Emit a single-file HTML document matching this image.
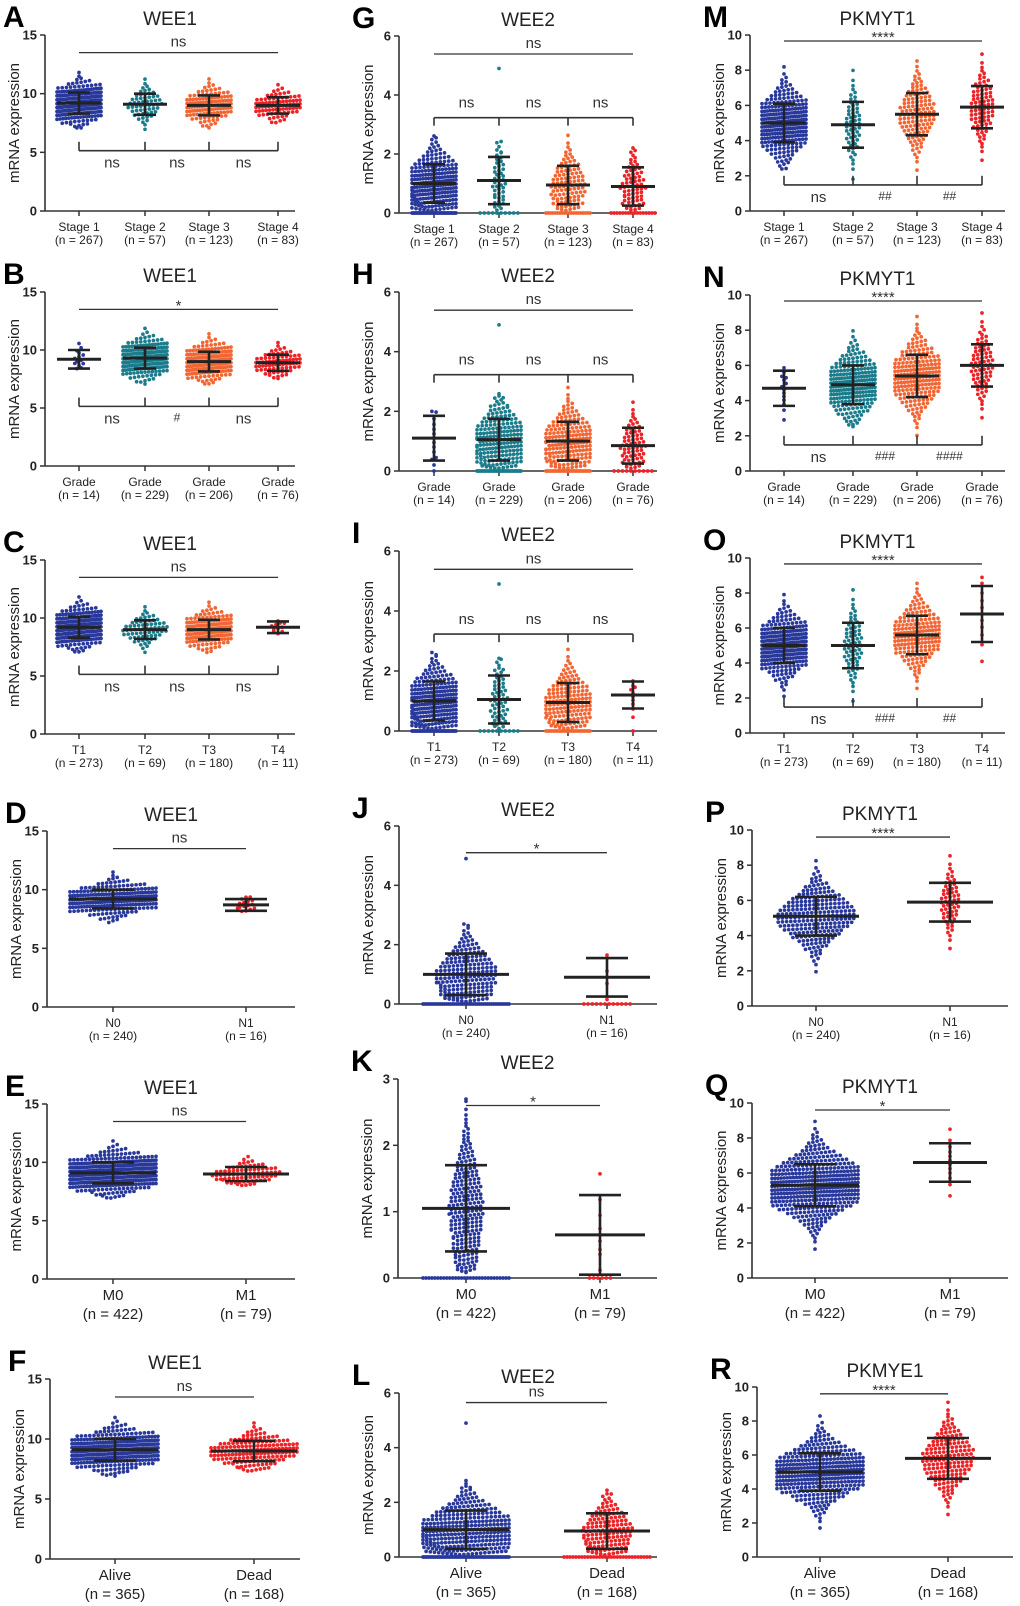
<!DOCTYPE html>
<html><head><meta charset="utf-8"><style>
html,body{margin:0;padding:0;background:#fff}
svg{display:block;font-family:"Liberation Sans",sans-serif}
</style></head><body>
<svg id="fig" width="1020" height="1606" viewBox="0 0 1020 1606" xmlns="http://www.w3.org/2000/svg"></svg>
<script>
// ---- data ----
const catsStage=["Stage 1","Stage 2","Stage 3","Stage 4"], nsStage=[267,57,123,83];
const catsGrade=["Grade","Grade","Grade","Grade"], nsGrade=[14,229,206,76];
const catsT=["T1","T2","T3","T4"], nsT=[273,69,180,11];
const catsN=["N0","N1"], nsN=[240,16];
const catsM=["M0","M1"], nsM=[422,79];
const catsAD=["Alive","Dead"], nsAD=[365,168];

const meansA=[9.2,9.1,9.0,9.0], sdsA=[0.9,0.9,0.85,0.7], minsA=[7,6.7,7,7.4], maxsA=[12.7,11.4,11.8,10.8];
const meansB=[9.2,9.3,9.0,8.9], sdsB=[0.8,0.9,0.85,0.7], minsB=[8.3,7,7,7.5], maxsB=[10.6,12.7,11.8,11.2];
const meansC=[9.2,9.0,9.0,9.2], sdsC=[0.9,0.8,0.85,0.5], minsC=[7,6.7,7,8.6], maxsC=[12.7,11.4,11.8,9.8];
const meansD=[9.2,8.7], sdsD=[0.8,0.5], minsD=[7.2,8.1], maxsD=[12.5,9.5];
const meansE=[9.1,9.0], sdsE=[0.9,0.6], minsE=[6.9,8], maxsE=[12.7,10.7];
const meansF=[9.1,9.0], sdsF=[0.9,0.85], minsF=[6.9,7.3], maxsF=[12.7,11.8];

const meansG=[1.0,1.1,0.95,0.9], sdsG=[0.65,0.8,0.65,0.65], maxsG=[2.7,2.5,2.8,2.3], zerosG=[40,10,20,16], extraG=[[],[4.9],[],[]];
const meansH=[1.1,1.05,1.0,0.85], sdsH=[0.75,0.7,0.65,0.6], maxsH=[2.2,2.6,2.8,2.8], zerosH=[1,35,30,10], extraH=[[],[4.9],[],[]];
const meansI=[1.0,1.05,0.95,1.2], sdsI=[0.65,0.8,0.65,0.45], maxsI=[2.7,2.5,2.8,1.7], zerosI=[40,10,25,1], extraI=[[],[4.9],[],[]];
const meansJ=[1.0,0.9], sdsJ=[0.7,0.65], maxsJ=[2.8,2.3], zerosJ=[45,12], extraJ=[[4.9],[]];
const meansK=[1.05,0.65], sdsK=[0.65,0.6], maxsK=[2.8,1.65], zerosK=[30,6], extraK=[[],[]], dotsK=[260,14];
const meansL=[1.0,0.95], sdsL=[0.7,0.65], maxsL=[2.8,2.5], zerosL=[60,30], extraL=[[4.9],[]];

const meansMm=[5.0,4.9,5.5,5.9], sdsMm=[1.1,1.3,1.2,1.2], minsMm=[2.3,0,1.6,2.2], maxsMm=[9.2,8.7,8.6,9.2];
const meansNn=[4.7,4.9,5.4,6.0], sdsNn=[1.0,1.1,1.2,1.2], minsNn=[2.9,2.5,1.5,2.5], maxsNn=[5.9,8.0,9.2,9.2];
const meansO=[5.0,5.0,5.6,6.8], sdsO=[1.0,1.3,1.1,1.6], minsO=[1.8,0,1.8,3.5], maxsO=[9.2,8.7,8.6,9.2];
const meansP=[5.1,5.9], sdsP=[1.1,1.1], minsP=[0,2.3], maxsP=[9.2,9.0], dotsP=[240,60];
const meansQ=[5.3,6.6], sdsQ=[1.2,1.1], minsQ=[0,4.6], maxsQ=[9.1,8.7], dotsQ=[422,12];
const meansR=[5.0,5.8], sdsR=[1.1,1.2], minsR=[0,1.8], maxsR=[9.2,9.2];

const C4=["#28389b","#1b7c8c","#f26634","#ec2327"], C2=["#28389b","#ec2327"];

// ---- panel layout ----
const panels=[
 {id:"A",title:"WEE1",ax:45,end:295,top:35,zero:211,yMax:15,ticks:[0,5,10,15],cx:[79,145,209,278],cats:catsStage,ns:nsStage,means:meansA,sds:sdsA,mins:minsA,maxs:maxsA,topSig:[13.5,"ns"],bot:{v:5.14,t:5.9,dir:"below",labels:["ns","ns","ns"]}},
 {id:"B",title:"WEE1",ax:45,end:295,top:292,zero:466,yMax:15,ticks:[0,5,10,15],cx:[79,145,209,278],cats:catsGrade,ns:nsGrade,means:meansB,sds:sdsB,mins:minsB,maxs:maxsB,topSig:[13.5,"*"],bot:{v:5.14,t:5.9,dir:"below",labels:["ns","#","ns"]}},
 {id:"C",title:"WEE1",ax:45,end:295,top:560,zero:734,yMax:15,ticks:[0,5,10,15],cx:[79,145,209,278],cats:catsT,ns:nsT,means:meansC,sds:sdsC,mins:minsC,maxs:maxsC,topSig:[13.5,"ns"],bot:{v:5.14,t:5.9,dir:"below",labels:["ns","ns","ns"]}},
 {id:"D",title:"WEE1",ax:47,end:295,top:831,zero:1007,yMax:15,ticks:[0,5,10,15],cx:[113,246],cats:catsN,ns:nsN,means:meansD,sds:sdsD,mins:minsD,maxs:maxsD,topSig:[13.5,"ns"],mh:[44,23]},
 {id:"E",title:"WEE1",ax:47,end:295,top:1104,zero:1279,yMax:15,ticks:[0,5,10,15],cx:[113,246],cats:catsM,ns:nsM,means:meansE,sds:sdsE,mins:minsE,maxs:maxsE,topSig:[13.5,"ns"],big:1},
 {id:"F",title:"WEE1",ax:50,end:300,top:1379,zero:1559,yMax:15,ticks:[0,5,10,15],cx:[115,254],cats:catsAD,ns:nsAD,means:meansF,sds:sdsF,mins:minsF,maxs:maxsF,topSig:[13.5,"ns"],big:1},
 {id:"G",title:"WEE2",ax:399,end:657,top:36,zero:213,yMax:6,ticks:[0,2,4,6],cx:[434,499,568,633],cats:catsStage,ns:nsStage,means:meansG,sds:sdsG,maxs:maxsG,zeros:zerosG,extra:extraG,topSig:[5.39,"ns"],bot:{v:3.23,t:2.96,dir:"above",labels:["ns","ns","ns"]}},
 {id:"H",title:"WEE2",ax:399,end:657,top:292,zero:471,yMax:6,ticks:[0,2,4,6],cx:[434,499,568,633],cats:catsGrade,ns:nsGrade,means:meansH,sds:sdsH,maxs:maxsH,zeros:zerosH,extra:extraH,topSig:[5.39,"ns"],bot:{v:3.23,t:2.96,dir:"above",labels:["ns","ns","ns"]}},
 {id:"I",title:"WEE2",ax:399,end:657,top:551,zero:731,yMax:6,ticks:[0,2,4,6],cx:[434,499,568,633],cats:catsT,ns:nsT,means:meansI,sds:sdsI,maxs:maxsI,zeros:zerosI,extra:extraI,topSig:[5.39,"ns"],bot:{v:3.23,t:2.96,dir:"above",labels:["ns","ns","ns"]}},
 {id:"J",title:"WEE2",ax:399,end:657,top:826,zero:1004,yMax:6,ticks:[0,2,4,6],cx:[466,607],cats:catsN,ns:nsN,means:meansJ,sds:sdsJ,maxs:maxsJ,zeros:zerosJ,extra:extraJ,topSig:[5.1,"*"]},
 {id:"K",title:"WEE2",ax:398,end:657,top:1079,zero:1278,yMax:3,ticks:[0,1,2,3],cx:[466,600],cats:catsM,ns:nsM,means:meansK,sds:sdsK,maxs:maxsK,zeros:zerosK,extra:extraK,dots:dotsK,topSig:[2.6,"*"],big:1,mh:[44,45]},
 {id:"L",title:"WEE2",ax:399,end:657,top:1393,zero:1557,yMax:6,ticks:[0,2,4,6],cx:[466,607],cats:catsAD,ns:nsAD,means:meansL,sds:sdsL,maxs:maxsL,zeros:zerosL,extra:extraL,topSig:[5.65,"ns"],big:1},
 {id:"M",title:"PKMYT1",ax:750,end:1005,top:35,zero:211,yMax:10,ticks:[0,2,4,6,8,10],cx:[784,853,917,982],cats:catsStage,ns:nsStage,means:meansMm,sds:sdsMm,mins:minsMm,maxs:maxsMm,topSig:[9.66,"****"],bot:{v:1.48,t:2.0,dir:"below",labels:["ns","##","##"]}},
 {id:"N",title:"PKMYT1",ax:750,end:1005,top:295,zero:471,yMax:10,ticks:[0,2,4,6,8,10],cx:[784,853,917,982],cats:catsGrade,ns:nsGrade,means:meansNn,sds:sdsNn,mins:minsNn,maxs:maxsNn,topSig:[9.66,"****"],bot:{v:1.48,t:2.0,dir:"below",labels:["ns","###","####"]}},
 {id:"O",title:"PKMYT1",ax:750,end:1005,top:558,zero:733,yMax:10,ticks:[0,2,4,6,8,10],cx:[784,853,917,982],cats:catsT,ns:nsT,means:meansO,sds:sdsO,mins:minsO,maxs:maxsO,topSig:[9.66,"****"],bot:{v:1.48,t:2.0,dir:"below",labels:["ns","###","##"]}},
 {id:"P",title:"PKMYT1",ax:752,end:1008,top:830,zero:1006,yMax:10,ticks:[0,2,4,6,8,10],cx:[816,950],cats:catsN,ns:nsN,means:meansP,sds:sdsP,mins:minsP,maxs:maxsP,dots:dotsP,topSig:[9.6,"****"]},
 {id:"Q",title:"PKMYT1",ax:752,end:1008,top:1103,zero:1278,yMax:10,ticks:[0,2,4,6,8,10],cx:[815,950],cats:catsM,ns:nsM,means:meansQ,sds:sdsQ,mins:minsQ,maxs:maxsQ,dots:dotsQ,topSig:[9.6,"*"],big:1,mh:[44,37]},
 {id:"R",title:"PKMYE1",ax:757,end:1013,top:1387,zero:1557,yMax:10,ticks:[0,2,4,6,8,10],cx:[820,948],cats:catsAD,ns:nsAD,means:meansR,sds:sdsR,mins:minsR,maxs:maxsR,topSig:[9.6,"****"],big:1}
];

const NS="http://www.w3.org/2000/svg", svg=document.getElementById("fig");
function mk(tag,attrs,parent,txt){const e=document.createElementNS(NS,tag);for(const k in attrs)e.setAttribute(k,attrs[k]);if(txt!=null)e.textContent=txt;(parent||svg).appendChild(e);return e;}
function inv(p){const a=[-39.6968302866538,220.946098424521,-275.928510446969,138.357751867269,-30.6647980661472,2.50662827745924],b=[-54.4760987982241,161.585836858041,-155.698979859887,66.8013118877197,-13.2806815528857],c=[-0.00778489400243029,-0.322396458041136,-2.40075827716184,-2.54973253934373,4.37466414146497,2.93816398269878],d=[0.00778469570904146,0.32246712907004,2.445134137143,3.75440866190742];let q,r;
 if(p<0.02425){q=Math.sqrt(-2*Math.log(p));return(((((c[0]*q+c[1])*q+c[2])*q+c[3])*q+c[4])*q+c[5])/((((d[0]*q+d[1])*q+d[2])*q+d[3])*q+1);}
 if(p>1-0.02425){q=Math.sqrt(-2*Math.log(1-p));return-(((((c[0]*q+c[1])*q+c[2])*q+c[3])*q+c[4])*q+c[5])/((((d[0]*q+d[1])*q+d[2])*q+d[3])*q+1);}
 q=p-0.5;r=q*q;return(((((a[0]*r+a[1])*r+a[2])*r+a[3])*r+a[4])*r+a[5])*q/(((((b[0]*r+b[1])*r+b[2])*r+b[3])*r+b[4])*r+1);}
function fold(v,lo,hi){for(let k=0;k<4;k++){if(v<lo)v=lo+(lo-v);if(v>hi)v=hi-(v-hi);}return Math.max(lo,Math.min(hi,v));}

panels.forEach(P=>{
 const g=mk("g",{});
 
 
 const y=v=>P.zero-(v/P.yMax)*(P.zero-P.top);
 const two=P.cx.length===2, half=two?43:22, capH=two?21:11;
 const col1="ABCDEF".includes(P.id);
 const L=mk("text",{x:col1?P.ax-42:P.ax-47,y:P.top-8,"font-size":30,"font-weight":"bold"},g,P.id);
 
 const T=mk("text",{x:(P.ax+P.end)/2,y:P.top-10,"font-size":19,"text-anchor":"middle",fill:"#222"},g,P.title);
 
 const yt=mk("text",{transform:`translate(${P.ax-26},${(P.top+P.zero)/2}) rotate(-90)`,"font-size":15,"text-anchor":"middle",fill:"#222"},g,"mRNA expression");
 
 const ya=mk("line",{x1:P.ax,y1:P.top,x2:P.ax,y2:P.zero,stroke:"#333","stroke-width":1.6},g);
 
 const xa=mk("line",{x1:P.ax,y1:P.zero,x2:P.end,y2:P.zero,stroke:"#333","stroke-width":1.6},g);
 
 P.ticks.forEach(t=>{
  const tl=mk("line",{x1:P.ax-5,x2:P.ax,y1:y(t),y2:y(t),stroke:"#333","stroke-width":1.5},g);
  
  const tx=mk("text",{x:P.ax-8,y:y(t)+4.5,"font-size":13,"font-weight":"bold","text-anchor":"end",fill:"#222"},g,t);
  
 });
 P.cx.forEach((cx,i)=>{
  const xt=mk("line",{x1:cx,x2:cx,y1:P.zero,y2:P.zero+5,stroke:"#333","stroke-width":1.5},g);
  
  const fs=P.big?15:12, d1=P.big?21:20, d2=P.big?40:33;
  const c1=mk("text",{x:cx,y:P.zero+d1,"font-size":fs,"text-anchor":"middle",fill:"#222"},g,P.cats[i]);
  
  const c2=mk("text",{x:cx,y:P.zero+d2,"font-size":fs,"text-anchor":"middle",fill:"#222"},g,"(n = "+P.ns[i]+")");
  
  const n=P.dots?P.dots[i]:P.ns[i], z=P.zeros?P.zeros[i]:0, ex=P.extra?P.extra[i]:[];
  const lo=P.mins?P.mins[i]:0.08, hi=P.maxs[i], m=n-z-ex.length, vals=[];
  for(let k=0;k<m;k++){vals.push(fold(P.means[i]+P.sds[i]*inv((k+0.5)/m),lo,hi));}
  for(let k=0;k<z;k++)vals.push(0);
  ex.forEach(v=>vals.push(v));
  const bh=3.9,bins={};
  vals.forEach(v=>{const b=Math.round((P.zero-y(v))/bh);(bins[b]=bins[b]||[]).push(v);});
  const col=two?C2[i]:C4[i];
  const dg=mk("g",{fill:col},g);
  
  for(const b in bins){const arr=bins[b],k=arr.length,s=k>1?Math.min(4.2,2*half/(k-1)):0;
   arr.forEach((v,j)=>{mk("circle",{cx:cx+(j-(k-1)/2)*s,cy:y(v),r:1.85},dg);});}
  const mh=P.mh?P.mh[i]:half, yM=y(P.means[i]), yU=y(P.means[i]+P.sds[i]), yL=y(Math.max(0,P.means[i]-P.sds[i]));
  const eg=mk("g",{stroke:"#222","stroke-width":2.6},g);
  
  mk("line",{x1:cx-mh,x2:cx+mh,y1:yM,y2:yM,"stroke-width":3},eg);
  mk("line",{x1:cx,x2:cx,y1:yU,y2:yL},eg);
  mk("line",{x1:cx-capH,x2:cx+capH,y1:yU,y2:yU},eg);
  mk("line",{x1:cx-capH,x2:cx+capH,y1:yL,y2:yL},eg);
 });
 const x0=P.cx[0],x1=P.cx[P.cx.length-1],ty=y(P.topSig[0]);
 const tb=mk("line",{x1:x0,x2:x1,y1:ty,y2:ty,stroke:"#333","stroke-width":1.3},g);
 
 const st=mk("text",{x:(x0+x1)/2,y:ty-(P.topSig[1]==="ns"?6:-1),"font-size":15,"text-anchor":"middle",fill:"#333"},g,P.topSig[1]);
 
 if(P.bot){const B=P.bot,by=y(B.v),bt=y(B.t);
  const bl=mk("line",{x1:x0,x2:x1,y1:by,y2:by,stroke:"#333","stroke-width":1.6},g);
  
  P.cx.forEach(cx=>{mk("line",{x1:cx,x2:cx,y1:by,y2:bt,stroke:"#333","stroke-width":1.6},g);});
  B.labels.forEach((lb,k)=>{const mx=(P.cx[k]+P.cx[k+1])/2;
   const small=lb[0]==="#";
   const t=mk("text",{x:mx,y:B.dir==="below"?by+(small?15:17):by-10,"font-size":small?12:15,"text-anchor":"middle",fill:"#333"},g,lb);
   });
 }
});
</script>
</body></html>
